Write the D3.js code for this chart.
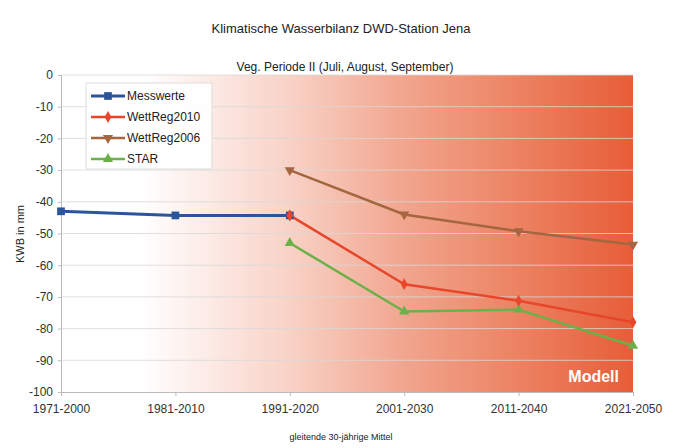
<!DOCTYPE html>
<html lang="de">
<head>
<meta charset="utf-8" />
<title>Klimatische Wasserbilanz DWD-Station Jena</title>
<script src="https://d3js.org/d3.v7.min.js"></script>
<style>
  body{margin:0;background:#fff;font-family:"Liberation Sans",Arial,sans-serif;}
  svg{display:block;}
  .grid line{stroke:#d8d8d8;stroke-width:1;}
  .axis text{fill:#333;font-size:12px;}
  .axis path,.axis line{stroke:#bbb;}
</style>
</head>
<body>
<svg id="chart" width="682" height="448"></svg>
<script>
// -------- DATA --------
const periods=['1971-2000','1981-2010','1991-2020','2001-2030','2011-2040','2021-2050'];
const messwerte=[-43,-44.3,-44.3,null,null,null];
const wettreg2010=[null,null,-44.3,-66,-71.2,-78];
const wettreg2006=[null,null,-30,-44,-49.3,-53.5];
const star=[null,null,-53,-74.6,-74,-85.4];
const yTicks=[0,-10,-20,-30,-40,-50,-60,-70,-80,-90,-100];

const series=[
  {name:'Messwerte',values:messwerte,color:'#2b559b',width:3,symbol:d3.symbolSquare,size:60},
  {name:'WettReg2010',values:wettreg2010,color:'#e8462a',width:2.5,symbol:d3.symbolDiamond,size:40},
  {name:'WettReg2006',values:wettreg2006,color:'#a4663f',width:2.5,symbol:'triDown',size:45},
  {name:'STAR',values:star,color:'#6cb04a',width:2.5,symbol:d3.symbolTriangle,size:45}
];

// -------- LAYOUT --------
const svg=d3.select('#chart');
const L=61,R=633,T=75,B=392;
const x=d3.scalePoint().domain(periods).range([L,R]).padding(0);
const y=d3.scaleLinear().domain([-100,0]).range([B,T]);

// background gradient (model area)
const defs=svg.append('defs');
const grad=defs.append('linearGradient').attr('id','bg').attr('x1','0%').attr('x2','100%');
[[0,'#ffffff'],[0.14,'#ffffff'],[0.4,'#f8d2c6'],[0.6,'#f1a58e'],[0.8,'#ec8262'],[1,'#e75d38']]
  .forEach(([o,c])=>grad.append('stop').attr('offset',o).attr('stop-color',c));
svg.append('rect').attr('x',L).attr('y',T).attr('width',R-L).attr('height',B-T).attr('fill','url(#bg)');

// grid
svg.append('g').attr('class','grid').selectAll('line').data(yTicks).join('line')
  .attr('x1',L).attr('x2',R).attr('y1',d=>y(d)).attr('y2',d=>y(d))
  .attr('stroke-opacity',d=>d===-100?0:0.8);

// axes
const ya=svg.append('g').attr('class','axis').attr('transform',`translate(${L},0)`)
  .call(d3.axisLeft(y).tickValues(yTicks).tickFormat(d=>String(d)).tickSize(3).tickPadding(5));
ya.select('.domain').attr('stroke','#ccc');
const xa=svg.append('g').attr('class','axis').attr('transform',`translate(0,${B})`)
  .call(d3.axisBottom(x).tickSize(4).tickPadding(8));
xa.select('.domain').attr('stroke','#ccc');

// "Modell" label
svg.append('text').attr('x',R-14).attr('y',B-10).attr('text-anchor','end')
  .attr('fill','#fff').attr('font-weight','bold').attr('font-size','16px').text('Modell');

// marker helper
function marker(g,s,cx,cy){
  const sym=s.symbol==='triDown'?d3.symbolTriangle:s.symbol;
  g.append('path').attr('d',d3.symbol().type(sym).size(s.size)())
    .attr('transform',`translate(${cx},${cy})${s.symbol==='triDown'?' rotate(180)':''}`)
    .attr('fill',s.color);
}

// lines
const line=d3.line().defined(d=>d.v!==null).x(d=>x(d.p)).y(d=>y(d.v));
const order=[series[2],series[3],series[1],series[0]];
order.forEach(s=>{
  const pts=periods.map((p,i)=>({p,v:s.values[i]}));
  svg.append('path').datum(pts).attr('d',line).attr('fill','none')
    .attr('stroke',s.color).attr('stroke-width',s.width).attr('stroke-linejoin','round');
  const g=svg.append('g');
  pts.filter(d=>d.v!==null).forEach(d=>marker(g,s,x(d.p),y(d.v)));
});
// WettReg2010 start marker on top of measured line end
marker(svg.append('g'),series[1],x(periods[2]),y(wettreg2010[2]));

// legend
const lg=svg.append('g').attr('transform','translate(86,83)');
lg.append('rect').attr('width',126).attr('height',86).attr('fill','#fff').attr('fill-opacity',0.92)
  .attr('stroke','#ddd');
series.forEach((s,i)=>{
  const yy=13+i*21;
  lg.append('line').attr('x1',5).attr('x2',39).attr('y1',yy).attr('y2',yy)
    .attr('stroke',s.color).attr('stroke-width',s.width);
  marker(lg,s,22,yy);
  lg.append('text').attr('x',41).attr('y',yy+4).attr('font-size','12px').attr('fill','#222').text(s.name);
});

// titles
svg.append('text').attr('x',341).attr('y',33).attr('text-anchor','middle')
  .attr('font-size','13px').attr('fill','#222').text('Klimatische Wasserbilanz DWD-Station Jena');
svg.append('text').attr('x',345).attr('y',71).attr('text-anchor','middle')
  .attr('font-size','12px').attr('fill','#222').text('Veg. Periode II (Juli, August, September)');
svg.append('text').attr('transform','translate(24,234) rotate(-90)').attr('text-anchor','middle')
  .attr('font-size','11px').attr('fill','#222').text('KWB in mm');
svg.append('text').attr('x',341).attr('y',440).attr('text-anchor','middle')
  .attr('font-size','9px').attr('fill','#222').text('gleitende 30-jährige Mittel');
</script>
</body>
</html>
